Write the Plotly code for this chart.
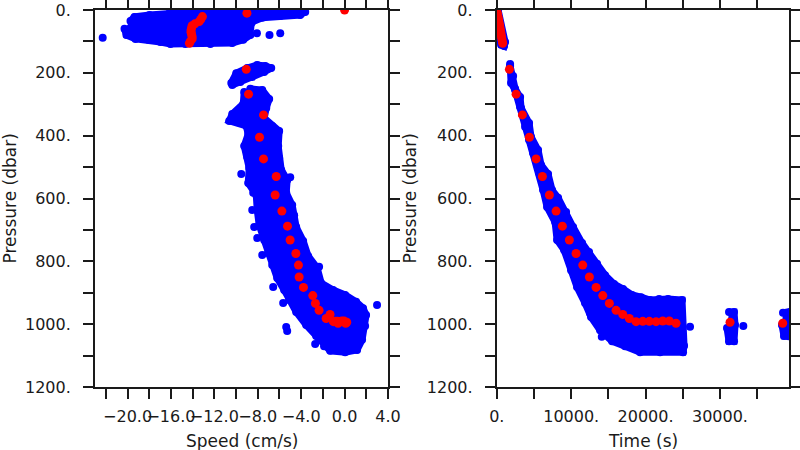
import plotly.graph_objects as go

# ---------------- data ----------------
# Bin-mean points (red), shared by both panels: pressure, speed, time
red_pres = [0, 10, 21, 30, 37, 44, 50, 57, 64, 71, 78, 85, 92, 99, 106,
            189, 268, 334, 405, 474, 530, 589, 640, 688, 732, 775, 812, 850,
            883, 909, 934, 956, 969, 982, 992, 991, 991, 992, 990, 990, 997,
            994, 997]
red_speed = [0.0, -9.0, -13.1, -13.25, -13.4, -13.8, -14.05, -14.1, -14.15,
             -14.15, -14.1, -14.05, -14.05, -14.2, -14.3,
             -9.06, -8.85, -7.47, -7.84, -7.47, -6.30, -6.40, -5.78, -5.26,
             -5.02, -4.49, -4.25, -4.19, -3.79, -2.93, -2.69, -2.35, -1.34,
             -1.70, -1.03, -0.85, -0.66, -0.45, -0.26, -0.05, -0.60, 0.20, 0.10]
red_time = [0, 80, 160, 230, 280, 330, 380, 430, 480, 530, 580, 630, 680, 730, 790,
            1693, 2594, 3441, 4381, 5282, 6129, 7070, 7970, 8817, 9758, 10658,
            11555, 12446, 13346, 14247, 15133, 16034, 16935, 17821, 18722,
            19622, 20509, 21410, 22310, 23197, 24098, 31355, 38438]

# Dense clouds of individual observations (blue): outlines of the clouds
# Speed panel, near-surface cloud
surf_speed = [-19.73, -19.36, -17.98, -16.14, -14.76, -12.92, -10.53, -7.77,
              -5.01, -3.63, -4.09, -5.93, -7.59, -8.51, -8.69, -8.69, -9.34,
              -10.35, -12.37, -14.67, -16.05, -16.97, -18.08, -19.27, -20.10, -20.28]
surf_pres = [35, 22, 16, 10, 6, 3, 3, 3, 3, 6, 16, 19, 25, 38, 57, 80, 95,
             105, 108, 108, 108, 102, 95, 92, 80, 60]
# Speed panel, 170-240 dbar patch
patch_speed = [-10.44, -9.98, -8.97, -8.05, -7.31, -6.76, -7.41, -8.51, -9.61, -10.35]
patch_pres = [232, 201, 185, 175, 178, 185, 197, 213, 229, 239]
# Speed panel, main descent
deep_speed = [-9.25, -9.34, -10.35, -10.63, -9.06, -8.88, -9.25, -8.97, -8.79,
              -8.88, -8.14, -8.05, -7.87, -7.41, -7.04, -6.67, -6.21, -5.57,
              -5.11, -4.46, -3.54, -2.62, -1.89, -1.33, 0.05, 1.15,
              1.61, 1.89, 1.98, 1.70, 1.06, 0.05, -1.06, -2.16, -2.53, -3.36,
              -3.82, -4.46, -4.65, -4.83, -5.38, -5.29, -5.84, -6.03, -6.12,
              -6.03, -6.67, -7.41, -7.22, -6.95, -7.59, -8.69]
deep_pres = [261, 299, 331, 353, 369, 395, 433, 468, 503, 551, 589, 637, 684,
             732, 773, 812, 853, 891, 923, 961, 1003, 1038, 1070, 1085, 1089, 1082,
             1050, 1006, 971, 949, 929, 907, 891, 869, 821, 783, 735, 691, 653,
             621, 582, 541, 509, 471, 433, 385, 369, 344, 312, 283, 255, 251]
# Speed panel, isolated observations
lone_speed = [-22.29, -5.93, -6.92, -8.08, 2.99, -5.38, -5.29, -5.66, -6.58,
              -7.59, -8.05, -8.33, -8.51, -8.42, -9.52, -5.01, -2.71, -2.35]
lone_pres = [88, 74, 80, 74, 939, 1009, 1022, 933, 882, 780, 726, 691, 637,
             582, 522, 532, 1063, 817]

# Time panel, near-surface descent
ts_time = [0, 175, 1115, 980, 580, 40]
ts_pres = [0, 0, 102, 115, 111, 64]
# Time panel, main descent and bottom
tb_time = [1788, 1922, 2460, 3132, 3804, 4341, 4879, 5685, 6223, 6760, 7836,
           8104, 9045, 9986, 10792, 11868, 12674, 13883, 15496, 17243, 19259,
           21947, 25038,
           25173, 24904, 23022, 21813, 20603, 19394, 18184, 16974, 15765,
           14555, 13480, 12405, 11464, 10254, 9314, 8239, 7432, 6895, 5954,
           5551, 4610, 4341, 3266, 3132, 2460, 2191, 1788]
tb_pres = [172, 232, 255, 309, 372, 414, 455, 519, 573, 627, 675, 732, 764,
           828, 882, 933, 977, 1019, 1054, 1070, 1089, 1089, 1089,
           1069, 923, 920, 920, 923, 914, 907, 888, 872, 844, 808, 770, 742,
           691, 643, 598, 573, 522, 493, 446, 404, 360, 312, 277, 251, 210, 178]
# Time panel, later bottom segments
b2_time = [31221, 31893, 32027, 31893, 31221, 30952]
b2_pres = [961, 961, 1003, 1054, 1054, 1012]
b3_time = [38479, 39689, 39689, 38613, 38344]
b3_pres = [964, 958, 1041, 1038, 1003]
# Time panel, isolated observations
tlone_time = [25979, 33143, 14112, 12540]
tlone_pres = [1008, 1006, 1040, 965]

# Axis ticks
pres_ticks = [0, 200, 400, 600, 800, 1000, 1200]
pres_labels = ["0.", "200.", "400.", "600.", "800.", "1000.", "1200."]
speed_ticks = [-20, -16, -12, -8, -4, 0, 4]
speed_labels = ["\u221220.0", "\u221216.0", "\u221212.0", "\u22128.0", "\u22124.0", "0.0", "4.0"]
time_ticks = [0, 10000, 20000, 30000]
time_labels = ["0.", "10000.", "20000.", "30000."]

BLUE = "#0000ff"
RED = "#ff0000"
INK = "#1a1a1a"
FONT = "DejaVu Sans"

fig = go.Figure()


def cloud(x, y, xa, ya):
    fig.add_trace(go.Scatter(
        x=x, y=y, xaxis=xa, yaxis=ya, mode="lines+markers",
        fill="toself", fillcolor=BLUE,
        line=dict(color=BLUE, width=7),
        marker=dict(color=BLUE, size=8),
        hoverinfo="skip", showlegend=False))


def dots(x, y, xa, ya, color, size=8):
    fig.add_trace(go.Scatter(
        x=x, y=y, xaxis=xa, yaxis=ya, mode="markers",
        marker=dict(color=color, size=size, line=dict(width=0)),
        showlegend=False))


# left panel: pressure vs speed
cloud(surf_speed, surf_pres, "x", "y")
cloud(patch_speed, patch_pres, "x", "y")
cloud(deep_speed, deep_pres, "x", "y")
dots(lone_speed, lone_pres, "x", "y", BLUE)
dots(red_speed, red_pres, "x", "y", RED, 9)

# right panel: pressure vs time
cloud(ts_time, ts_pres, "x2", "y2")
cloud(tb_time, tb_pres, "x2", "y2")
cloud(b2_time, b2_pres, "x2", "y2")
cloud(b3_time, b3_pres, "x2", "y2")
dots(tlone_time, tlone_pres, "x2", "y2", BLUE)
dots(red_time, red_pres, "x2", "y2", RED, 9)

common = dict(showline=True, linecolor=INK, linewidth=2, mirror="ticks",
              ticks="outside", ticklen=10, tickwidth=1.6, tickcolor=INK,
              showgrid=False, zeroline=False, automargin=False, tickangle=0,
              tickfont=dict(family=FONT, size=16, color=INK))

yaxis_common = dict(common, range=[1200, 0], tickmode="array",
                    tickvals=pres_ticks, ticktext=pres_labels,
                    minor=dict(dtick=100, tick0=0, ticks="outside", ticklen=10,
                               tickwidth=1.6, tickcolor=INK, showgrid=False),
                    ticklabelstandoff=9)

fig.update_layout(
    width=800, height=450,
    margin=dict(l=0, r=0, t=0, b=0, autoexpand=False),
    paper_bgcolor="white", plot_bgcolor="white",
    showlegend=False,
    xaxis=dict(common, domain=[0.11875, 0.485], range=[-23, 4],
               tickmode="array", tickvals=speed_ticks, ticktext=speed_labels,
               minor=dict(dtick=2, tick0=0, ticks="outside", ticklen=10,
                          tickwidth=1.6, tickcolor=INK, showgrid=False),
               ticklabelstandoff=4, anchor="y"),
    yaxis=dict(yaxis_common, domain=[0.14, 0.9778], anchor="x"),
    xaxis2=dict(common, domain=[0.621, 0.98625], range=[0, 39285],
                tickmode="array", tickvals=time_ticks, ticktext=time_labels,
                minor=dict(dtick=5000, tick0=0, ticks="outside", ticklen=10,
                           tickwidth=1.6, tickcolor=INK, showgrid=False),
                ticklabelstandoff=4, anchor="y2"),
    yaxis2=dict(yaxis_common, domain=[0.14, 0.9778], anchor="x2"),
)

title_font = dict(family=FONT, size=17, color=INK)
fig.add_annotation(text="Speed (cm/s)", xref="paper", yref="paper",
                   x=0.3019, y=0.02, xanchor="center", yanchor="middle",
                   showarrow=False, font=title_font)
fig.add_annotation(text="Time (s)", xref="paper", yref="paper",
                   x=0.8036, y=0.02, xanchor="center", yanchor="middle",
                   showarrow=False, font=title_font)
fig.add_annotation(text="Pressure (dbar)", xref="paper", yref="paper",
                   x=0.0125, y=0.559, xanchor="center", yanchor="middle",
                   textangle=-90, showarrow=False, font=title_font)
fig.add_annotation(text="Pressure (dbar)", xref="paper", yref="paper",
                   x=0.5125, y=0.559, xanchor="center", yanchor="middle",
                   textangle=-90, showarrow=False, font=title_font)

# the page's default 8px body margin would shift the 800x450 figure
fig.write_html("out.html",
               config={"displayModeBar": False},
               post_script="document.body.style.margin='0';"
                           "document.body.style.overflow='hidden';")
